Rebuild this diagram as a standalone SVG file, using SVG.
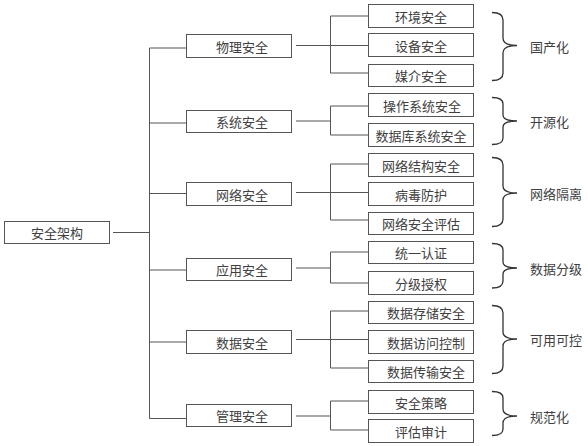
<svg xmlns="http://www.w3.org/2000/svg" width="588" height="446" viewBox="0 0 588 446">
<style>
.b{fill:#fff;stroke:#555;stroke-width:1}
.t{font-family:"Noto Sans CJK SC","Liberation Sans",sans-serif;font-size:13px;fill:#404040;text-anchor:middle;dominant-baseline:central}
.l{font-family:"Noto Sans CJK SC","Liberation Sans",sans-serif;font-size:13px;fill:#404040;dominant-baseline:central}
.c{fill:none;stroke:#555;stroke-width:1}
.br{fill:none;stroke:#333;stroke-width:1.3}
</style>
<rect width="588" height="446" fill="#fff"/>
<g id="connectors">
<path class="c" d="M113,232.5H149.5M149.5,48V418.5M149.5,48H186M149.5,123H186M149.5,193.5H186M149.5,270H186M149.5,342H186M149.5,418.5H186"/>
<path class="c" d="M296,45.5H368M330.5,16V73M330.5,16H368M330.5,73H368"/>
<path class="c" d="M296,121H330.5M330.5,106V135M330.5,106H368M330.5,135H368"/>
<path class="c" d="M296,192.5H368M330.5,164V220M330.5,164H368M330.5,220H368"/>
<path class="c" d="M296,268H330.5M330.5,252V283M330.5,252H368M330.5,283H368"/>
<path class="c" d="M296,339.5H368M330.5,311V368M330.5,311H368M330.5,368H368"/>
<path class="c" d="M296,416H330.5M330.5,401V430M330.5,401H368M330.5,430H368"/>
</g>
<g id="root"><rect class="b" x="4.5" y="221.5" width="105" height="22"/><text class="t" x="57" y="232.5">安全架构</text></g>
<g id="n1"><rect class="b" x="186.5" y="34.5" width="105" height="23"/><text class="t" x="242" y="46">物理安全</text></g>
<g id="n2"><rect class="b" x="186.5" y="110.5" width="105" height="22"/><text class="t" x="242" y="121.5">系统安全</text></g>
<g id="n3"><rect class="b" x="186.5" y="182.5" width="105" height="23"/><text class="t" x="242" y="194">网络安全</text></g>
<g id="n4"><rect class="b" x="186.5" y="258.5" width="105" height="22"/><text class="t" x="242" y="269.5">应用安全</text></g>
<g id="n5"><rect class="b" x="186.5" y="330.5" width="105" height="23"/><text class="t" x="242" y="342">数据安全</text></g>
<g id="n6"><rect class="b" x="186.5" y="404.5" width="105" height="22"/><text class="t" x="242" y="415.5">管理安全</text></g>

<g id="n1a"><rect class="b" x="368.5" y="4.5" width="105" height="23"/><text class="t" x="421" y="16">环境安全</text></g>
<g id="n1b"><rect class="b" x="368.5" y="33.5" width="105" height="23"/><text class="t" x="421" y="45">设备安全</text></g>
<g id="n1c"><rect class="b" x="368.5" y="64.5" width="105" height="22"/><text class="t" x="421" y="75.5">媒介安全</text></g>
<g id="n2a"><rect class="b" x="368.5" y="93.5" width="105" height="23"/><text class="t" x="422" y="105">操作系统安全</text></g>
<g id="n2b"><rect class="b" x="368.5" y="123.5" width="105" height="23"/><text class="t" x="421" y="135">数据库系统安全</text></g>
<g id="n3a"><rect class="b" x="368.5" y="153.5" width="105" height="23"/><text class="t" x="421" y="165">网络结构安全</text></g>
<g id="n3b"><rect class="b" x="368.5" y="182.5" width="105" height="23"/><text class="t" x="421" y="194">病毒防护</text></g>
<g id="n3c"><rect class="b" x="368.5" y="212.5" width="105" height="22"/><text class="t" x="421" y="223.5">网络安全评估</text></g>
<g id="n4a"><rect class="b" x="368.5" y="241.5" width="105" height="22"/><text class="t" x="421" y="252.5">统一认证</text></g>
<g id="n4b"><rect class="b" x="368.5" y="271.5" width="105" height="23"/><text class="t" x="421" y="283">分级授权</text></g>
<g id="n5a"><rect class="b" x="368.5" y="301.5" width="105" height="22"/><text class="t" x="426" y="312.5">数据存储安全</text></g>
<g id="n5b"><rect class="b" x="368.5" y="330.5" width="105" height="23"/><text class="t" x="426" y="342">数据访问控制</text></g>
<g id="n5c"><rect class="b" x="368.5" y="360.5" width="105" height="22"/><text class="t" x="426" y="371.5">数据传输安全</text></g>
<g id="n6a"><rect class="b" x="368.5" y="390.5" width="105" height="23"/><text class="t" x="421" y="402">安全策略</text></g>
<g id="n6b"><rect class="b" x="368.5" y="419.5" width="105" height="23"/><text class="t" x="421" y="431">评估审计</text></g>

<g id="brace1"><path class="br" d="M492,12.5Q503,12.5 503,20V38Q503,45.5 517,45.5Q503,45.5 503,53V73Q503,80.5 492,80.5"/><text class="l" x="530" y="46">国产化</text></g>
<g id="brace2"><path class="br" d="M492,97.5Q503,97.5 503,104V115Q503,121 517,121Q503,121 503,127V138Q503,144.5 492,144.5"/><text class="l" x="530" y="121">开源化</text></g>
<g id="brace3"><path class="br" d="M492,157.5Q503,157.5 503,165V186Q503,193 517,193Q503,193 503,200V219Q503,226.5 492,226.5"/><text class="l" x="530" y="193">网络隔离</text></g>
<g id="brace4"><path class="br" d="M492,243.5Q503,243.5 503,250V262Q503,268 517,268Q503,268 503,274V281Q503,288 492,288"/><text class="l" x="530" y="268">数据分级</text></g>
<g id="brace5"><path class="br" d="M492,305.5Q503,305.5 503,313V332Q503,339 517,339Q503,339 503,346V366Q503,373.5 492,373.5"/><text class="l" x="530" y="339">可用可控</text></g>
<g id="brace6"><path class="br" d="M492,391.5Q503,391.5 503,398V409Q503,416 517,416Q503,416 503,423V429Q503,435.5 492,435.5"/><text class="l" x="530" y="416">规范化</text></g>
</svg>
